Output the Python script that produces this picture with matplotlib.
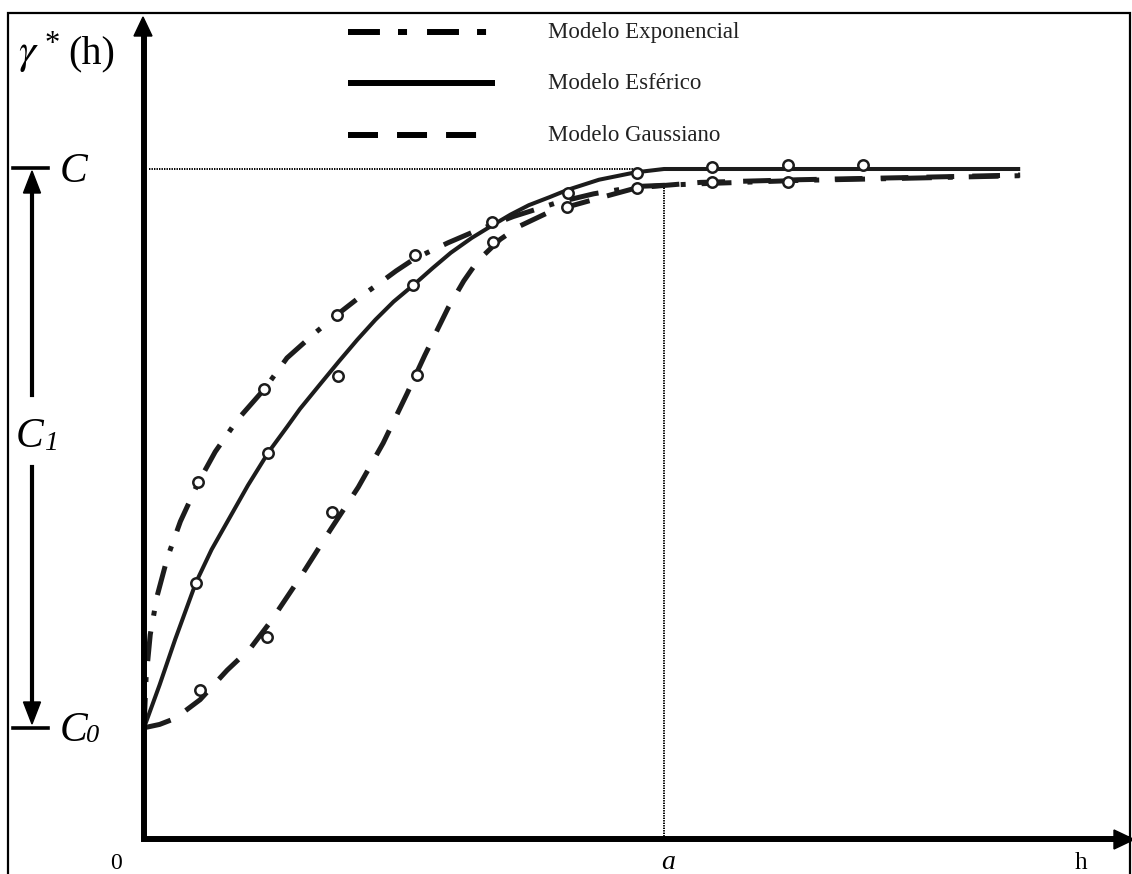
import matplotlib
matplotlib.use("Agg")
import matplotlib.pyplot as plt
from matplotlib.patches import Polygon, Rectangle
from matplotlib.lines import Line2D

plt.rcParams['font.family'] = ['Liberation Serif', 'DejaVu Serif']
plt.rcParams['mathtext.fontset'] = 'stix'
plt.rcParams['lines.scale_dashes'] = False

# Semivariogram values (lag h with range a = 10, sill C = 10, nugget C0)
C0 = 1.66
SILL = 10.0
RANGE_A = 10.0

sph_h = [0, 0.3, 0.6, 1.0, 1.3, 1.65, 2.0, 2.4, 2.75, 3.0, 3.4, 3.75, 4.1, 4.45, 4.8, 5.2, 5.55, 5.9, 6.3,
         6.7, 7.05, 7.4, 7.8, 8.15, 8.75, 9.45, 10.0, 16.85]
sph_g = [1.66, 2.3, 2.98, 3.83, 4.32, 4.8, 5.28, 5.78, 6.15, 6.42, 6.8, 7.13, 7.45, 7.75, 8.02, 8.28, 8.52,
         8.75, 8.97, 9.16, 9.32, 9.46, 9.58, 9.69, 9.84, 9.95, 10.0, 10.0]

exp_h = [0, 0.04, 0.12, 0.25, 0.45, 0.7, 1.05, 1.37, 1.8, 2.32, 2.75, 3.3, 3.72, 4.1, 4.5, 4.85, 5.2, 5.85,
         6.3, 6.7, 7.1, 7.55, 7.95, 8.65, 9.5, 10.7, 12.6, 14.55, 16.85]
exp_g = [1.66, 2.4, 3.05, 3.62, 4.2, 4.74, 5.33, 5.78, 6.26, 6.72, 7.18, 7.56, 7.83, 8.06, 8.28, 8.48, 8.66,
         8.9, 9.05, 9.17, 9.29, 9.4, 9.5, 9.63, 9.74, 9.78, 9.83, 9.86, 9.9]

gau_h = [0, 0.3, 0.6, 1.08, 1.6, 2.05, 2.43, 3.0, 3.58, 4.12, 4.6, 5.06, 5.4, 5.85, 6.15, 6.42, 6.85, 7.23,
         7.8, 8.77, 9.48, 10.7, 12.6, 14.55, 16.85]
gau_g = [1.66, 1.71, 1.8, 2.08, 2.52, 2.85, 3.24, 3.9, 4.61, 5.25, 5.91, 6.65, 7.22, 7.93, 8.33, 8.63, 8.95,
         9.15, 9.36, 9.57, 9.72, 9.8, 9.84, 9.87, 9.91]

# Experimental points
sph_pts_h = [1.0, 2.38, 3.73, 5.17, 6.69, 8.15, 9.48, 10.92, 12.38, 13.83]
sph_pts_g = [3.82, 5.76, 6.91, 8.27, 9.21, 9.64, 9.94, 10.03, 10.06, 10.06]
exp_pts_h = [1.04, 2.31, 3.71, 5.21]
exp_pts_g = [5.33, 6.72, 7.82, 8.72]
gau_pts_h = [1.08, 2.37, 3.62, 5.25, 6.71, 8.13, 9.48, 10.92, 12.38]
gau_pts_g = [2.22, 3.01, 4.88, 6.93, 8.91, 9.43, 9.72, 9.81, 9.81]

legend_labels = ['Modelo Exponencial', 'Modelo Esférico', 'Modelo Gaussiano']

W, H = 1132, 874
fig = plt.figure(figsize=(W / 100, H / 100), dpi=100)
ax = fig.add_axes([0, 0, 1, 1])
ax.axis('off')

# origin of the diagram in pixels and pixel size of one unit
OX, OY, SX, SY = 144, 839, 52.0, 67.0
ax.set_xlim(-OX / SX, (W - OX) / SX)
ax.set_ylim(-(H - OY) / SY, OY / SY)


def F(px, py):
    return (px / W, 1 - py / H)


ink = '#1c1c1c'
EXP_DASH = (0, (21.5, 11.5, 3.6, 11.5))
GAU_DASH = (0, (20, 13))

# guide lines
ax.plot([0.1, 9.4], [SILL, SILL], ls=(0, (1, 0.8)), lw=1.4, color='black')
ax.plot([RANGE_A, RANGE_A], [0, 9.75], ls=(0, (1, 0.8)), lw=1.4, color='black')

# model curves
ax.plot(exp_h, exp_g, color=ink, lw=3.6, ls=EXP_DASH, dash_capstyle='butt', dash_joinstyle='round')
ax.plot(gau_h, gau_g, color=ink, lw=3.6, ls=GAU_DASH, dash_capstyle='butt', dash_joinstyle='round')
ax.plot(sph_h, sph_g, color=ink, lw=2.9, solid_capstyle='butt', solid_joinstyle='round')

for hh, gg in [(sph_pts_h, sph_pts_g), (exp_pts_h, exp_pts_g), (gau_pts_h, gau_pts_g)]:
    ax.plot(hh, gg, ls='none', marker='o', ms=7.5, mfc='white', mec=ink, mew=1.8, zorder=5)

# main axes with arrow heads
ax.plot([0, 0], [0, 12.0], color='black', lw=4.3, solid_capstyle='butt', zorder=6)
ax.plot([0, 18.9], [0, 0], color='black', lw=4.3, solid_capstyle='projecting', zorder=6)
fig.patches.append(Polygon([F(134, 36), F(152, 36), F(143, 17)], closed=True, color='black',
                           transform=fig.transFigure, figure=fig))
fig.patches.append(Polygon([F(1114, 830), F(1114, 849), F(1134, 839.5)], closed=True, color='black',
                           transform=fig.transFigure, figure=fig))

# C1 bracket
for py in (168, 728):
    fig.lines.append(Line2D([13 / W, 48 / W], [1 - py / H] * 2, color='black', lw=2.6,
                            transform=fig.transFigure))
fig.lines.append(Line2D([32 / W] * 2, [1 - 190 / H, 1 - 395 / H], color='black', lw=3.0,
                        transform=fig.transFigure))
fig.lines.append(Line2D([32 / W] * 2, [1 - 467 / H, 1 - 705 / H], color='black', lw=3.0,
                        transform=fig.transFigure))
fig.patches.append(Polygon([F(23.5, 193), F(40.5, 193), F(32, 171)], closed=True, color='black',
                           transform=fig.transFigure, figure=fig))
fig.patches.append(Polygon([F(23.5, 702), F(40.5, 702), F(32, 724)], closed=True, color='black',
                           transform=fig.transFigure, figure=fig))

# labels
fig.text(*F(18, 63), r'$\gamma$', fontsize=31, ha='left', va='baseline')
fig.text(*F(45, 52), '*', fontsize=22, ha='left', va='baseline')
fig.text(*F(68, 63), '(h)', fontsize=29, ha='left', va='baseline')
fig.text(*F(60, 182), 'C', fontsize=30, style='italic', ha='left', va='baseline')
fig.text(*F(16, 447), 'C', fontsize=30, style='italic', ha='left', va='baseline')
fig.text(*F(44, 450), '1', fontsize=20, style='italic', ha='left', va='baseline')
fig.text(*F(60, 741), 'C', fontsize=30, style='italic', ha='left', va='baseline')
fig.text(*F(86, 742), '0', fontsize=19, style='italic', ha='left', va='baseline')
fig.text(*F(116, 869), '0', fontsize=17, ha='center', va='baseline')
fig.text(*F(668, 869), 'a', fontsize=20, style='italic', ha='center', va='baseline')
fig.text(*F(1081, 869), 'h', fontsize=18, ha='center', va='baseline')

# legend
rows = [32, 83, 135]
styles = [dict(ls=(0, (23, 13, 6.5, 14.4))), dict(ls='-'), dict(ls=(0, (21.6, 13.7)))]
ends = [487, 495, 477]
for label, py, st, xe in zip(legend_labels, rows, styles, ends):
    fig.lines.append(Line2D([348 / W, xe / W], [1 - py / H] * 2, color='black', lw=4.3,
                            dash_capstyle='butt', solid_capstyle='butt', transform=fig.transFigure, **st))
    fig.text(*F(548, py + 6), label, fontsize=16.5, ha='left', va='baseline', color='#222222')

# frame around the figure
fig.patches.append(Rectangle(F(8, 900), 1122 / W, (900 - 13) / H, fill=False, ec='black', lw=1.6,
                             transform=fig.transFigure, figure=fig))

fig.savefig('out.png', dpi=100)
